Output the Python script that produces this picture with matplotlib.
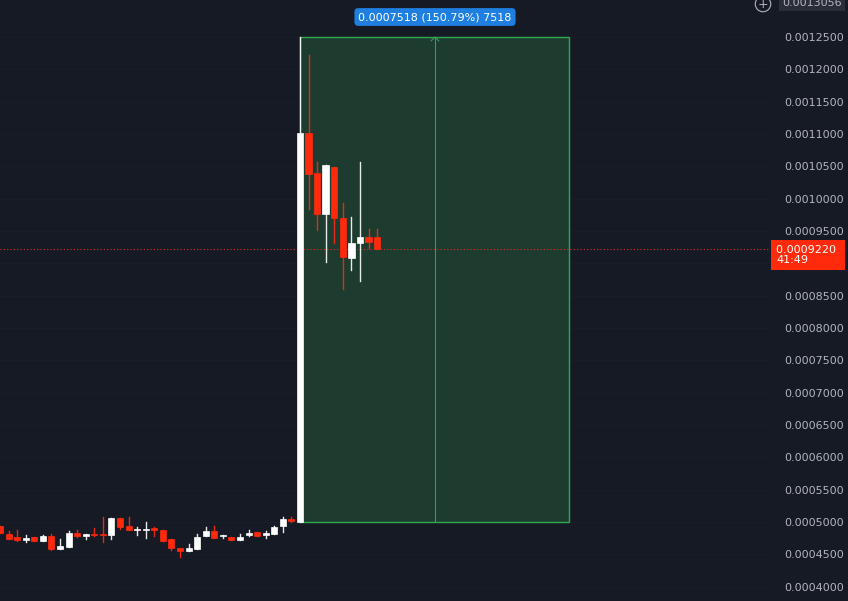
import matplotlib
matplotlib.use("Agg")
import matplotlib.pyplot as plt
from matplotlib.patches import Rectangle
import numpy as np

S = 1e-7
opens  = [4938,4814,4768,4722,4768,4706,4783,4582,4613,4830,4783,4814,4814,4799,5062,4938,4876,4876,4907,4876,4737,4598,4552,4582,4783,4861,4783,4768,4722,4799,4845,4799,4814,4938,5046,5000,11015,10397,9763,10490,9701,9082,9314,9407,9407]
highs  = [4938,4861,4876,4799,4768,4799,4814,4737,4861,4876,4814,4907,5077,5062,5062,5077,4923,5000,4923,4876,4737,4598,4660,4814,4923,4938,4799,4768,4814,4876,4845,4861,4938,5077,5077,12500,12222,10567,10521,10490,9933,9717,10567,9531,9531]
lows   = [4830,4737,4706,4691,4706,4706,4567,4582,4613,4768,4737,4783,4691,4737,4892,4876,4799,4753,4783,4706,4567,4459,4552,4582,4783,4753,4753,4722,4722,4783,4783,4753,4814,4845,5000,5000,9840,9515,9021,9314,8603,8897,8727,9237,9220]
closes = [4830,4737,4722,4753,4706,4783,4582,4629,4830,4783,4814,4799,4799,5062,4923,4876,4892,4892,4876,4706,4598,4552,4598,4768,4861,4753,4799,4722,4768,4830,4783,4830,4923,5046,5015,11015,10381,9763,10521,9701,9098,9314,9407,9330,9220]
entry, target, last = 0.0005, 0.00125, 0.000922
ticks = np.arange(0.0004, 0.00126, 0.00005)

BG = "#161a25"; RED = "#ff2a0c"; WHITE = "#ffffff"
fig = plt.figure(figsize=(8.48, 6.01), dpi=100, facecolor=BG)
ax = fig.add_axes([0, 0, 770/848, 1], facecolor=BG)
sp = 8.57
ax.set_xlim(0, 770/sp)
ax.set_ylim(0.0003778, 0.0013072)
for t in ticks:
    ax.axhline(t, color="#191d29", lw=0.8, zorder=0)

ax.add_patch(Rectangle((35, entry), 31.4, target-entry, facecolor="#1d3b2f", edgecolor="#2fa84f", lw=1, zorder=1))
ax.plot([50.75, 50.75], [entry, target], color="#3a9c5a", lw=0.8, zorder=1)
ax.plot([50.3, 50.75, 51.2], [target-0.000006, target, target-0.000006], color="#3a9c5a", lw=0.8, zorder=1)

for i in range(len(opens)):
    o, h, l, c = opens[i]*S, highs[i]*S, lows[i]*S, closes[i]*S
    col = WHITE if c >= o else RED
    w = 0.7 if i < 35 else 0.75
    ax.plot([i, i], [l, h], color=col, lw=1.0, zorder=3, alpha=0.9)
    ax.add_patch(Rectangle((i - w/2, min(o, c)), w, max(abs(c-o), 0.0000015), facecolor=col, edgecolor=col, lw=0.5, zorder=4))

ax.axhline(last, color="#e03020", lw=0.8, ls=(0, (1, 2)), zorder=2)

ax.yaxis.tick_right()
ax.set_yticks(ticks)
ax.set_yticklabels([f"{t:.7f}" for t in ticks], color="#b2b5be", fontsize=8)
ax.tick_params(axis="y", length=0, pad=10)
ax.set_xticks([])
for s in ax.spines.values():
    s.set_visible(False)

fig.text(435/848, 1-17/601, "0.0007518 (150.79%) 7518", color="white", fontsize=8, ha="center", va="center",
         bbox=dict(boxstyle="round,pad=0.35", fc="#1f7fe0", ec="none"))
fig.text(776/848, 1-255/601, "0.0009220 \n41:49", color="white", fontsize=8, ha="left", va="center", linespacing=1.1,
         bbox=dict(boxstyle="square,pad=0.45", fc=RED, ec="none"))
fig.text(782/848, 1-3/601, "0.0013056", color="#b2b5be", fontsize=8, ha="left", va="center",
         bbox=dict(boxstyle="square,pad=0.3", fc="#2a2e39", ec="none"))
fig.text(763/848, 1-4/601, "+", color="#b2b5be", fontsize=9, ha="center", va="center",
         bbox=dict(boxstyle="circle,pad=0.1", fc=BG, ec="#b2b5be", lw=0.8))

fig.savefig("out.png", dpi=100, facecolor=BG)
